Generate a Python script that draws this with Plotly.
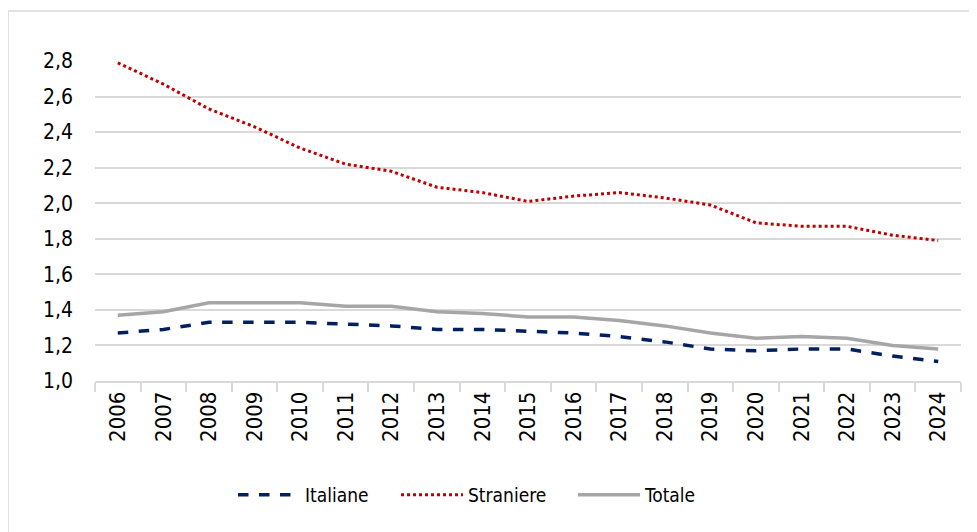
import plotly.graph_objects as go

years = [str(y) for y in range(2006, 2025)]
italiane = [1.27, 1.29, 1.33, 1.33, 1.33, 1.32, 1.31, 1.29, 1.29, 1.28, 1.27, 1.25, 1.22, 1.18, 1.17, 1.18, 1.18, 1.14, 1.11]
straniere = [2.79, 2.67, 2.53, 2.43, 2.31, 2.22, 2.18, 2.09, 2.06, 2.01, 2.04, 2.06, 2.03, 1.99, 1.89, 1.87, 1.87, 1.82, 1.79]
totale = [1.37, 1.39, 1.44, 1.44, 1.44, 1.42, 1.42, 1.39, 1.38, 1.36, 1.36, 1.34, 1.31, 1.27, 1.24, 1.25, 1.24, 1.20, 1.18]
y_ticks = [1.0, 1.2, 1.4, 1.6, 1.8, 2.0, 2.2, 2.4, 2.6, 2.8]
y_labels = [f"{v:.1f}".replace(".", ",") for v in y_ticks]

FONT = "DejaVu Sans Condensed, Liberation Sans Narrow, Arial Narrow, Liberation Sans, Arial, sans-serif"

fig = go.Figure()
fig.add_trace(go.Scatter(x=years, y=italiane, name="Italiane", mode="lines", legend="legend",
                         line=dict(color="#002060", width=3.5, dash="dash")))
fig.add_trace(go.Scatter(x=years, y=straniere, name="Straniere", mode="lines", legend="legend2",
                         line=dict(color="#C00000", width=3, dash="dot")))
fig.add_trace(go.Scatter(x=years, y=totale, name="Totale", mode="lines", legend="legend3",
                         line=dict(color="#A6A6A6", width=3.5)))

OFF = 8  # page body margin
W, H = 977, 532
L, R, T, B = 95 - OFF, W - (961 - OFF), 61 - OFF, H - (381 - OFF)
pw, ph = W - L - R, H - T - B

def px_x(x):
    return (x - OFF - L) / pw

def px_y(y):
    return (H - B - (y - OFF)) / ph

def leg(xpix):
    return dict(orientation="h", x=px_x(xpix), xanchor="left", y=px_y(495), yanchor="middle",
                font=dict(size=19), itemwidth=62, bgcolor="rgba(0,0,0,0)")

fig.update_layout(
    width=W, height=H,
    margin=dict(l=L, r=R, t=T, b=B),
    paper_bgcolor="white", plot_bgcolor="white",
    font=dict(family=FONT, size=21, color="#000000"),
    showlegend=True,
    legend=leg(233),
    legend2=leg(396),
    legend3=leg(573),
    xaxis=dict(type="category", tickson="boundaries", ticks="outside", ticklen=9,
               tickcolor="#D9D9D9", tickwidth=1.5, showline=True, linecolor="#D9D9D9",
               linewidth=1.5, showgrid=False, tickangle=-90, tickfont=dict(size=22),
               range=[-0.5, len(years) - 0.5]),
    yaxis=dict(range=[1.0, 2.8], tickvals=y_ticks, ticktext=y_labels, showgrid=True,
               gridcolor="#D9D9D9", gridwidth=1.5, zeroline=False, showline=False,
               ticks="", tickfont=dict(size=21), ticklabelstandoff=21),
    shapes=[dict(type="rect", xref="paper", yref="paper",
                 x0=px_x(8), x1=px_x(W + 20),
                 y0=px_y(H + 20), y1=px_y(11),
                 line=dict(color="#D9D9D9", width=1.5), fillcolor="rgba(0,0,0,0)", layer="below")],
)

fig.write_html("out.html")
